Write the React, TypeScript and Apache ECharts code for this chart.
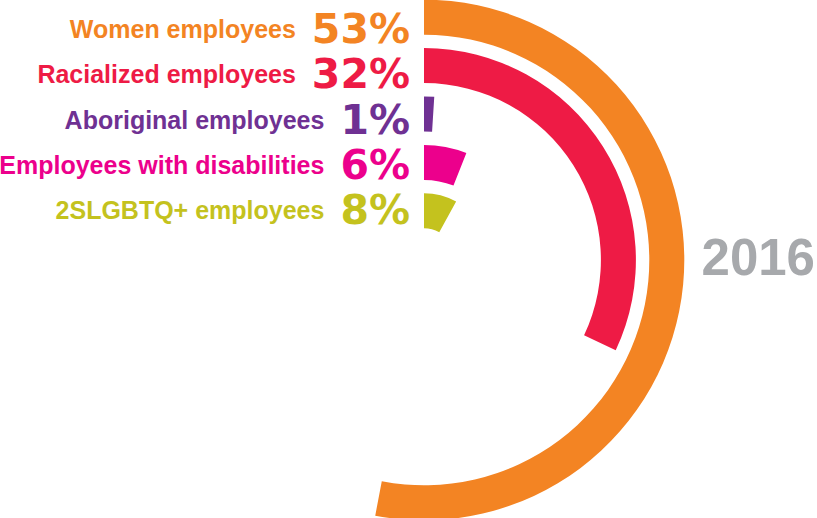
import React, { useEffect, useRef } from "react";
import * as echarts from "echarts";

const categories = [
  "Women employees",
  "Racialized employees",
  "Aboriginal employees",
  "Employees with disabilities",
  "2SLGBTQ+ employees",
];
const values = [53, 32, 1, 6, 8];
const colors = ["#F38423", "#EE1B45", "#6F3193", "#EC008C", "#C4C21E"];
const yearLabel = "2016";

export default function App() {
  const ref = useRef<HTMLDivElement>(null);
  useEffect(() => {
    document.body.style.margin = "0";
    const chart = echarts.init(ref.current!, null, { renderer: "svg" });
    const font = "'Liberation Sans', Arial, sans-serif";
    const numFont = "'DejaVu Sans', 'Liberation Sans', sans-serif";
    const graphics: any[] = [];
    categories.forEach((c, i) => {
      const y = 29 + i * 45.3;
      graphics.push({
        type: "text",
        x: 410,
        y: y,
        style: {
          text: `{a|${c}}{b|${values[i]}%}`,
          align: "right",
          verticalAlign: "middle",
          rich: {
            a: {
              fill: colors[i],
              fontFamily: font,
              fontWeight: "bold",
              fontSize: 25,
              lineHeight: 36,
              verticalAlign: "middle",
              padding: [0, 16, 0, 0],
            },
            b: {
              fill: colors[i],
              fontFamily: numFont,
              fontWeight: "bold",
              fontSize: 41,
              lineHeight: 36,
              verticalAlign: "middle",
            },
          },
        },
      });
    });
    graphics.push({
      type: "text",
      x: 815,
      y: 257,
      style: {
        text: yearLabel,
        fill: "#A7A9AC",
        font: `bold 51px ${font}`,
        textAlign: "right",
        textVerticalAlign: "middle",
      },
    });
    chart.setOption({
      animation: false,
      polar: { center: [424, 260], radius: [25, 267] },
      angleAxis: {
        type: "value",
        min: 0,
        max: 100,
        startAngle: 90,
        clockwise: true,
        show: false,
      },
      radiusAxis: {
        type: "category",
        data: categories,
        inverse: true,
        show: false,
      },
      series: [
        {
          type: "bar",
          coordinateSystem: "polar",
          barWidth: 35,
          data: values.map((v, i) => ({ value: v, itemStyle: { color: colors[i] } })),
        },
      ],
      graphic: graphics,
    });
    return () => chart.dispose();
  }, []);
  return <div ref={ref} style={{ width: 817, height: 518 }} />;
}
